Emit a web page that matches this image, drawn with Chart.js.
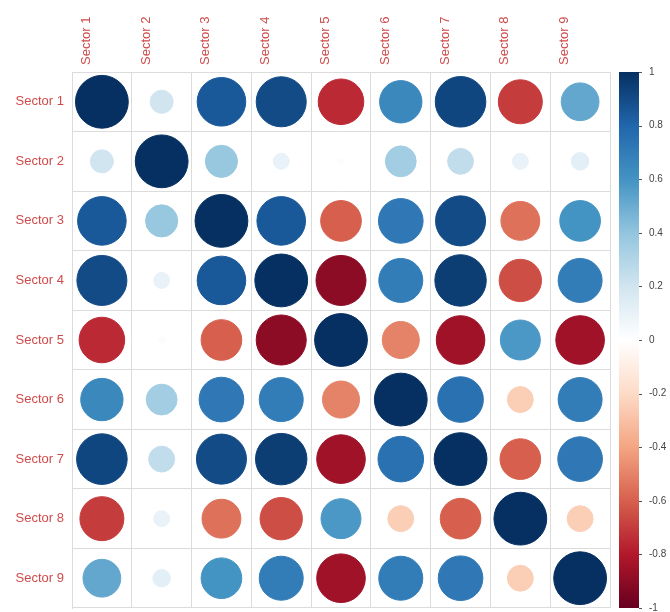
<!DOCTYPE html>
<html>
<head>
<meta charset="utf-8">
<script src="https://cdn.jsdelivr.net/npm/chart.js@4.4.1/dist/chart.umd.min.js"></script>
<style>
  html, body { margin: 0; padding: 0; background: #ffffff; }
  #wrap { width: 670px; height: 612px; position: relative; }
</style>
</head>
<body>
<div id="wrap"><canvas id="c"></canvas></div>
<script>
// ---- data ----
const sectors = ["Sector 1","Sector 2","Sector 3","Sector 4","Sector 5","Sector 6","Sector 7","Sector 8","Sector 9"];
const sector1 = [ 1.00,  0.20,  0.85,  0.90, -0.75,  0.65,  0.92, -0.70,  0.52];
const sector2 = [ 0.20,  1.00,  0.38,  0.10,  0.02,  0.35,  0.25,  0.10,  0.12];
const sector3 = [ 0.85,  0.38,  1.00,  0.85, -0.60,  0.72,  0.90, -0.55,  0.60];
const sector4 = [ 0.90,  0.10,  0.85,  1.00, -0.90,  0.70,  0.95, -0.65,  0.70];
const sector5 = [-0.75,  0.02, -0.60, -0.90,  1.00, -0.50, -0.85,  0.58, -0.85];
const sector6 = [ 0.65,  0.35,  0.72,  0.70, -0.50,  1.00,  0.75, -0.25,  0.70];
const sector7 = [ 0.92,  0.25,  0.90,  0.95, -0.85,  0.75,  1.00, -0.60,  0.72];
const sector8 = [-0.70,  0.10, -0.55, -0.65,  0.58, -0.25, -0.60,  1.00, -0.25];
const sector9 = [ 0.52,  0.12,  0.60,  0.70, -0.85,  0.70,  0.72, -0.25,  1.00];
const corrRows = [sector1, sector2, sector3, sector4, sector5, sector6, sector7, sector8, sector9];
const colorbarTicks = [-1, -0.8, -0.6, -0.4, -0.2, 0, 0.2, 0.4, 0.6, 0.8, 1];
const paletteStops = ["#67001F","#B2182B","#D6604D","#F4A582","#FDDBC7","#FFFFFF","#D1E5F0","#92C5DE","#4393C3","#2166AC","#053061"];

// ---- layout constants ----
const Y_AXIS_W = 72;
const X_AXIS_H = 72;
const CB_W = 60;

// ---- helpers ----
function hexToRgb(h) {
  return [parseInt(h.slice(1,3),16), parseInt(h.slice(3,5),16), parseInt(h.slice(5,7),16)];
}
function corrColor(v) {
  const t = (Math.max(-1, Math.min(1, v)) + 1) / 2 * (paletteStops.length - 1);
  const i = Math.min(paletteStops.length - 2, Math.floor(t));
  const f = t - i;
  const a = hexToRgb(paletteStops[i]), b = hexToRgb(paletteStops[i+1]);
  const c = a.map((x, k) => Math.round(x + (b[k] - x) * f));
  return `rgb(${c[0]},${c[1]},${c[2]})`;
}
function valOf(ctx) { return ctx && ctx.raw && typeof ctx.raw.v === 'number' ? ctx.raw.v : 0; }
function cellSize(chart) {
  let w = chart && chart.width;
  if (!isFinite(w) || !w) w = document.getElementById('wrap').clientWidth;
  return (w - Y_AXIS_W - CB_W) / sectors.length;
}

const points = [];
corrRows.forEach((row, i) => {
  row.forEach((v, j) => {
    points.push({ x: sectors[j], y: sectors[i], v: v });
  });
});

const labelColor = "#cf4b4b";
const gridColor = "#dcdcdc";

const colorbarPlugin = {
  id: "colorbar",
  beforeDatasetsDraw(chart) {
    const s = chart.scales.cb;
    const ctx = chart.ctx;
    const x0 = s.left + 9, w = 20;
    const yTop = s.getPixelForValue(1), yBot = s.getPixelForValue(-1);
    const g = ctx.createLinearGradient(0, yBot, 0, yTop);
    paletteStops.forEach((c, k) => g.addColorStop(k / (paletteStops.length - 1), c));
    ctx.save();
    ctx.fillStyle = g;
    ctx.fillRect(x0, yTop, w, yBot - yTop);
    ctx.strokeStyle = "#555";
    ctx.lineWidth = 1;
    colorbarTicks.forEach(t => {
      const y = Math.round(s.getPixelForValue(t)) + 0.5;
      ctx.beginPath();
      ctx.moveTo(x0 + w, y);
      ctx.lineTo(x0 + w + 3, y);
      ctx.stroke();
    });
    ctx.restore();
  }
};

new Chart(document.getElementById("c"), {
  type: "bubble",
  data: {
    datasets: [{
      data: points,
      backgroundColor: ctx => corrColor(valOf(ctx)),
      borderColor: ctx => corrColor(valOf(ctx)),
      borderWidth: 1,
      radius: ctx => Math.max(0, 0.9 * Math.sqrt(Math.abs(valOf(ctx))) / 2 * cellSize(ctx.chart) - 0.5),
      hoverRadius: 0
    }]
  },
  options: {
    responsive: true,
    maintainAspectRatio: false,
    animation: false,
    events: [],
    layout: { autoPadding: false, padding: { top: 0, left: 0, right: 0, bottom: 4 } },
    plugins: { legend: { display: false }, tooltip: { enabled: false } },
    scales: {
      x: {
        type: "category",
        labels: sectors,
        position: "top",
        offset: true,
        grid: { offset: true, color: gridColor, drawTicks: false, lineWidth: 1 },
        border: { color: gridColor },
        ticks: {
          color: labelColor,
          font: { family: "'Liberation Sans', Arial, sans-serif", size: 13 },
          minRotation: 90, maxRotation: 90, padding: 7, autoSkip: false
        },
        afterFit: s => { s.height = X_AXIS_H; }
      },
      y: {
        type: "category",
        labels: sectors,
        position: "left",
        offset: true,
        grid: { offset: true, color: gridColor, drawTicks: false, lineWidth: 1 },
        border: { color: gridColor },
        ticks: {
          color: labelColor,
          font: { family: "'Liberation Sans', Arial, sans-serif", size: 13 },
          padding: 8, autoSkip: false
        },
        afterFit: s => { s.width = Y_AXIS_W; s.paddingTop = 0; s.paddingBottom = 0; }
      },
      cb: {
        type: "linear",
        position: "right",
        min: -1, max: 1,
        grid: { display: false, drawTicks: false },
        border: { display: false },
        afterBuildTicks: s => { s.ticks = colorbarTicks.map(v => ({ value: v })); },
        ticks: {
          color: "#444",
          font: { family: "'Liberation Sans', Arial, sans-serif", size: 10 },
          padding: 39,
          callback: v => String(+Number(v).toFixed(1))
        },
        afterFit: s => { s.width = CB_W; s.paddingTop = 0; s.paddingBottom = 0; }
      }
    }
  },
  plugins: [colorbarPlugin]
});
</script>
</body>
</html>
